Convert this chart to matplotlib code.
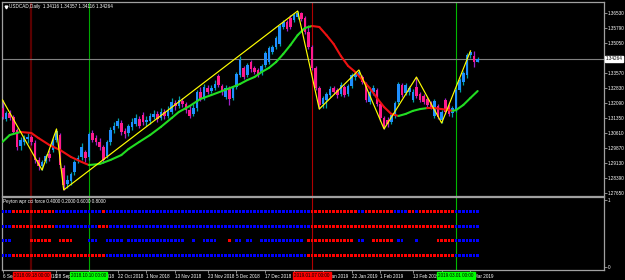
import matplotlib
matplotlib.use('Agg')
import matplotlib.pyplot as plt
from matplotlib.collections import LineCollection
from matplotlib import font_manager as fm
import matplotlib.transforms as mtrans
import numpy as np

# ---------------- data (USDCAD Daily) ----------------
OPEN = [1.3184,1.3130,1.3160,1.3140,1.3076,1.2997,1.3017,1.3031,1.3041,1.3012,
        1.2928,1.2898,1.2923,1.2957,1.2977,1.3026,1.3051,1.2888,1.2809,1.2824,
        1.2869,1.2928,1.2943,1.2967,1.2943,1.3061,1.3036,1.3017,1.2992,1.2947,
        1.3017,1.3076,1.3096,1.3110,1.3071,1.3061,1.3091,1.3105,1.3130,1.3150,
        1.3115,1.3120,1.3140,1.3155,1.3135,1.3165,1.3145,1.3165,1.3209,1.3194,
        1.3219,1.3204,1.3174,1.3155,1.3184,1.3263,1.3234,1.3283,1.3268,1.3283,
        1.3342,1.3293,1.3239,1.3283,1.3234,1.3288,1.3347,1.3382,1.3347,1.3411,
        1.3382,1.3372,1.3357,1.3396,1.3411,1.3461,1.3485,1.3500,1.3584,1.3609,
        1.3628,1.3618,1.3633,1.3653,1.3628,1.3559,1.3485,1.3382,1.3283,1.3204,
        1.3224,1.3248,1.3283,1.3273,1.3253,1.3288,1.3253,1.3293,1.3337,1.3347,
        1.3337,1.3303,1.3214,1.3263,1.3273,1.3204,1.3135,1.3125,1.3115,1.3145,
        1.3214,1.3298,1.3258,1.3263,1.3224,1.3288,1.3253,1.3244,1.3229,1.3209,
        1.3145,1.3194,1.3125,1.3224,1.3194,1.3160,1.3174,1.3273,1.3313,1.3347,
        1.3446,1.3441,1.34116]
HIGH = [1.3224,1.3170,1.3174,1.3150,1.3086,1.3041,1.3051,1.3061,1.3051,1.3026,
        1.2943,1.2928,1.2957,1.2977,1.3036,1.3081,1.3061,1.2903,1.2854,1.2869,
        1.2928,1.2952,1.3012,1.2977,1.3066,1.3076,1.3051,1.3036,1.3002,1.3026,
        1.3091,1.3115,1.3135,1.3125,1.3086,1.3105,1.3135,1.3155,1.3145,1.3165,
        1.3145,1.3160,1.3174,1.3170,1.3184,1.3179,1.3194,1.3234,1.3224,1.3244,
        1.3234,1.3214,1.3194,1.3204,1.3273,1.3288,1.3303,1.3298,1.3298,1.3322,
        1.3352,1.3303,1.3298,1.3293,1.3293,1.3362,1.3441,1.3392,1.3406,1.3421,
        1.3392,1.3382,1.3401,1.3466,1.3490,1.3495,1.3540,1.3599,1.3618,1.3618,
        1.3643,1.3653,1.3663,1.3658,1.3638,1.3594,1.3495,1.3392,1.3293,1.3244,
        1.3263,1.3293,1.3293,1.3283,1.3313,1.3298,1.3303,1.3357,1.3362,1.3372,
        1.3347,1.3313,1.3273,1.3298,1.3283,1.3214,1.3145,1.3140,1.3160,1.3219,
        1.3313,1.3308,1.3308,1.3293,1.3278,1.3337,1.3263,1.3253,1.3239,1.3219,
        1.3229,1.3204,1.3174,1.3234,1.3204,1.3194,1.3283,1.3332,1.3367,1.3456,
        1.3466,1.3466,1.34357]
LOW = [1.3130,1.3120,1.3125,1.3056,1.2977,1.2977,1.3002,1.3012,1.3002,1.2913,
       1.2878,1.2878,1.2913,1.2923,1.2967,1.3017,1.2888,1.2780,1.2790,1.2804,
       1.2854,1.2913,1.2928,1.2918,1.2928,1.3017,1.3002,1.2977,1.2913,1.2938,
       1.3002,1.3061,1.3086,1.3051,1.3036,1.3046,1.3076,1.3096,1.3086,1.3100,
       1.3096,1.3105,1.3130,1.3115,1.3125,1.3130,1.3135,1.3155,1.3174,1.3184,
       1.3189,1.3160,1.3135,1.3145,1.3170,1.3219,1.3224,1.3253,1.3258,1.3273,
       1.3288,1.3248,1.3229,1.3199,1.3224,1.3278,1.3337,1.3327,1.3337,1.3362,
       1.3352,1.3337,1.3347,1.3387,1.3401,1.3451,1.3475,1.3490,1.3574,1.3564,
       1.3574,1.3609,1.3623,1.3614,1.3549,1.3475,1.3372,1.3273,1.3179,1.3184,
       1.3184,1.3239,1.3253,1.3234,1.3244,1.3239,1.3244,1.3283,1.3322,1.3337,
       1.3303,1.3214,1.3204,1.3248,1.3194,1.3120,1.3081,1.3091,1.3105,1.3135,
       1.3204,1.3239,1.3248,1.3248,1.3214,1.3234,1.3214,1.3204,1.3189,1.3179,
       1.3135,1.3130,1.3110,1.3155,1.3145,1.3140,1.3165,1.3263,1.3298,1.3332,
       1.3431,1.3387,1.34116]
CLOSE = [1.3140,1.3160,1.3135,1.3066,1.2992,1.3026,1.3036,1.3041,1.3017,1.2928,
         1.2898,1.2918,1.2947,1.2938,1.3026,1.3071,1.2903,1.2804,1.2829,1.2859,
         1.2918,1.2938,1.2992,1.2938,1.3056,1.3026,1.3017,1.2992,1.2928,1.3017,
         1.3076,1.3096,1.3120,1.3066,1.3056,1.3096,1.3115,1.3135,1.3096,1.3115,
         1.3125,1.3145,1.3155,1.3130,1.3165,1.3145,1.3174,1.3214,1.3194,1.3224,
         1.3204,1.3174,1.3145,1.3184,1.3263,1.3229,1.3288,1.3263,1.3283,1.3303,
         1.3298,1.3263,1.3283,1.3229,1.3283,1.3352,1.3421,1.3337,1.3396,1.3377,
         1.3362,1.3347,1.3392,1.3456,1.3480,1.3485,1.3530,1.3589,1.3609,1.3574,
         1.3584,1.3643,1.3653,1.3623,1.3559,1.3485,1.3382,1.3283,1.3199,1.3234,
         1.3253,1.3278,1.3263,1.3248,1.3298,1.3248,1.3293,1.3347,1.3352,1.3362,
         1.3313,1.3224,1.3263,1.3283,1.3204,1.3135,1.3091,1.3105,1.3150,1.3209,
         1.3303,1.3248,1.3298,1.3283,1.3263,1.3244,1.3224,1.3214,1.3199,1.3189,
         1.3219,1.3140,1.3165,1.3165,1.3155,1.3184,1.3273,1.3322,1.3357,1.3446,
         1.3461,1.3411,1.34264]

# moving average (colour by slope) read at sample bars
MA_IDX = [0,2,5,8,10,13,16,19,22,24,27,30,33,35,38,41,44,47,49,52,55,58,61,64,66,
          68,70,72,74,76,78,80,82,84,86,88,90,92,94,96,98,100,102,104,106,108,110,
          112,114,116,118,120,122,124,125,126,128,130,132]
MA_VAL = [1.3017,1.3051,1.3066,1.3061,1.3036,1.3002,1.2977,1.2943,1.2918,1.2903,
          1.2908,1.2928,1.2952,1.2982,1.3017,1.3051,1.3091,1.3135,1.3165,1.3194,
          1.3229,1.3248,1.3268,1.3288,1.3303,1.3322,1.3337,1.3362,1.3382,1.3411,
          1.3451,1.3495,1.3544,1.3579,1.3589,1.3584,1.3544,1.3500,1.3441,1.3392,
          1.3362,1.3322,1.3283,1.3234,1.3189,1.3155,1.3145,1.3155,1.3170,1.3179,
          1.3184,1.3184,1.3179,1.3174,1.3170,1.3174,1.3199,1.3234,1.3268]

# zigzag pivots
ZZ_IDX = [0, 11, 15, 17, 82, 88, 99, 106, 115, 122, 130]
ZZ_VAL = [1.3224, 1.2878, 1.3081, 1.2780, 1.3663, 1.3179, 1.3372, 1.3081, 1.3337, 1.3110, 1.3466]

# indicator signal rows (run-length: B = blue, R = red, . = none)
SIG_ROW1 = [('B',3),('R',12),('B',13),('R',1),('B',57),('R',13),('B',2),('R',8),
            ('B',4),('R',2),('B',1),('R',10),('B',7)]
SIG_ROW2 = [('B',3),('R',12),('B',12),('R',3),('B',56),('R',40),('B',7)]
SIG_ROW3 = [('B',3),('.',5),('R',6),('.',2),('R',4),('.',4),('B',3),('.',2),('B',5),
            ('.',1),('B',16),('.',2),('B',1),('.',2),('B',4),('.',3),('R',1),('.',1),
            ('B',2),('.',1),('B',2),('.',2),('B',12),('.',1),('R',13),('.',1),('B',2),
            ('.',2),('R',6),('.',1),('B',2),('.',3),('B',1),('.',5),('R',5),('B',7)]
SIG_ROW4 = [('B',3),('R',26),('B',56),('R',41),('B',7)]

YTICKS = [1.36530, 1.35790, 1.35050, 1.33570, 1.32830, 1.32090, 1.31350,
          1.30610, 1.29870, 1.29130, 1.28390, 1.27650]
LAST_PRICE = 1.34264

DATE_IDX = [0, 8, 15, 24, 32, 40, 48, 57, 65, 73, 81, 89, 97, 105, 114, 122, 130]
DATE_LABELS = ['6 Sep 2018', '18 Sep 2018', '28 Sep 2018', '10 Oct 2018', '22 Oct 2018',
               '1 Nov 2018', '13 Nov 2018', '23 Nov 2018', '5 Dec 2018', '17 Dec 2018',
               '27 Dec 2018', '10 Jan 2019', '22 Jan 2019', '1 Feb 2019', '13 Feb 2019',
               '25 Feb 2019', '7 Mar 2019']

VLINE_IDX = [8, 24, 86, 126]
VLINE_DATES = ['2018.09.18 00:00', '2018.10.10 00:00', '2019.01.07 00:00', '2019.03.01 00:00']

# ---------------- styling ----------------
_names = {f.name for f in fm.fontManager.ttflist}
FONT = 'Liberation Sans Narrow' if 'Liberation Sans Narrow' in _names else 'Liberation Sans'
plt.rcParams['font.family'] = [FONT, 'DejaVu Sans']
FS = 3.3
GRAY = '#a0a0a0'

W, H = 625, 280
fig = plt.figure(figsize=(W / 100, H / 100), dpi=100, facecolor='black')


def px_axes(l, t, r, b):
    return fig.add_axes([l / W, 1 - b / H, (r - l) / W, (b - t) / H])


ax = px_axes(2, 1.5, 604, 195.5)
ax2 = px_axes(2, 197, 604, 270)

X0, X1 = -0.14, 167.1
for a in (ax, ax2):
    a.set_facecolor('black')
    a.set_xlim(X0, X1)
    for s in a.spines.values():
        s.set_color(GRAY)
        s.set_linewidth(0.9)

ax.set_ylim(1.27526, 1.37097)
ax2.set_ylim(0, 1)
ax.set_xticks([])

# y ticks main
ax.yaxis.tick_right()
ax.set_yticks(YTICKS)
ax.set_yticklabels([f'{v:.5f}' for v in YTICKS])
ax.tick_params(axis='y', colors=GRAY, labelcolor='white', length=2, width=0.6,
               pad=0.6, labelsize=FS)

# vertical lines
vcols = ['#5a0000', '#00a800', '#b00000', '#00b800']
vlw = [1.6, 0.8, 0.8, 0.8]
for a in (ax, ax2):
    for i, col, lw in zip(VLINE_IDX, vcols, vlw):
        a.axvline(i, color=col, lw=lw, zorder=1)

ax.axhline(LAST_PRICE, color='#808080', lw=0.8, zorder=1)

# candles
o = np.array(OPEN); h = np.array(HIGH); l = np.array(LOW); c = np.array(CLOSE)
idx = np.arange(len(c))
up = c >= o
dn = ~up
ax.vlines(idx[up], l[up], h[up], color='#00a0a8', lw=0.9, zorder=2)
ax.vlines(idx[dn], l[dn], h[dn], color='#a020c8', lw=0.9, zorder=2)
ax.bar(idx[up], np.maximum(c[up] - o[up], 0.0003), bottom=o[up], width=0.7,
       color='#1e8fff', linewidth=0, zorder=3)
ax.bar(idx[dn], np.maximum(o[dn] - c[dn], 0.0003), bottom=c[dn], width=0.7,
       color='#ff1a8c', linewidth=0, zorder=3)

# moving average coloured by slope
pts = np.column_stack([MA_IDX, MA_VAL])
segs = np.stack([pts[:-1], pts[1:]], axis=1)
seg_cols = ['#22dd22' if b > a_ else '#ee1111' for a_, b in zip(MA_VAL[:-1], MA_VAL[1:])]
ax.add_collection(LineCollection(segs, colors=seg_cols, linewidths=1.5, zorder=4,
                                 capstyle='round'))

# zigzag
ax.plot(ZZ_IDX, ZZ_VAL, color='#ffff00', lw=0.85, zorder=5)

# last price label
ax.annotate(f'{LAST_PRICE:.5f}', xy=(1, LAST_PRICE), xycoords=('axes fraction', 'data'),
            xytext=(1.2, 0), textcoords='offset points', ha='left', va='center',
            fontsize=FS, color='black', annotation_clip=False, zorder=10,
            bbox=dict(boxstyle='square,pad=0.12', fc='white', ec='white'))

# title
ax.plot([0.0065], [0.974], marker='v', ms=2.0, color='white', transform=ax.transAxes,
        clip_on=False)
ax.text(0.011, 0.974, 'USDCAD,Daily  1.34116 1.34357 1.34116 1.34264', transform=ax.transAxes,
        fontsize=FS, color='white', ha='left', va='center')

# indicator panel: small squares, one per bar
levels = [0.8, 0.6, 0.4, 0.2]
SQ_H = 0.038
for level, runs in zip(levels, [SIG_ROW1, SIG_ROW2, SIG_ROW3, SIG_ROW4]):
    states = ''.join(s * n for s, n in runs)
    for state, col in (('B', '#0000ff'), ('R', '#ff0000')):
        xs = [i for i, ch in enumerate(states) if ch == state]
        ax2.bar(xs, SQ_H, bottom=level - SQ_H / 2, width=0.72, color=col,
                linewidth=0, zorder=3)

ax2.text(0.002, 0.935, 'Peyton wpr cci force 0.4000 0.2000 0.6000 0.8000',
         transform=ax2.transAxes, fontsize=FS, color='white', ha='left', va='center')

ax2.yaxis.tick_right()
ax2.set_yticks([0.041, 0.959])
ax2.set_yticklabels(['0', '1'])
ax2.tick_params(axis='y', colors=GRAY, labelcolor='white', length=2, width=0.6,
                pad=0.6, labelsize=FS)

ax2.set_xticks(DATE_IDX)
ax2.set_xticklabels(DATE_LABELS)
for t in ax2.get_xticklabels():
    t.set_ha('left')
ax2.tick_params(axis='x', colors=GRAY, labelcolor='white', length=2, width=0.6,
                pad=0.8, labelsize=FS)

trans = mtrans.blended_transform_factory(ax2.transData, ax2.transAxes)
box_cols = ['#ff0000', '#00ff00', '#ff0000', '#00ff00']
for i, txt, bc in zip(VLINE_IDX, VLINE_DATES, box_cols):
    ax2.text(i, -0.075, txt, transform=trans, ha='center', va='center', fontsize=FS,
             color='black', zorder=20, clip_on=False,
             bbox=dict(boxstyle='square,pad=0.2', fc=bc, ec=bc))

fig.savefig('out.png', dpi=100, facecolor='black')
